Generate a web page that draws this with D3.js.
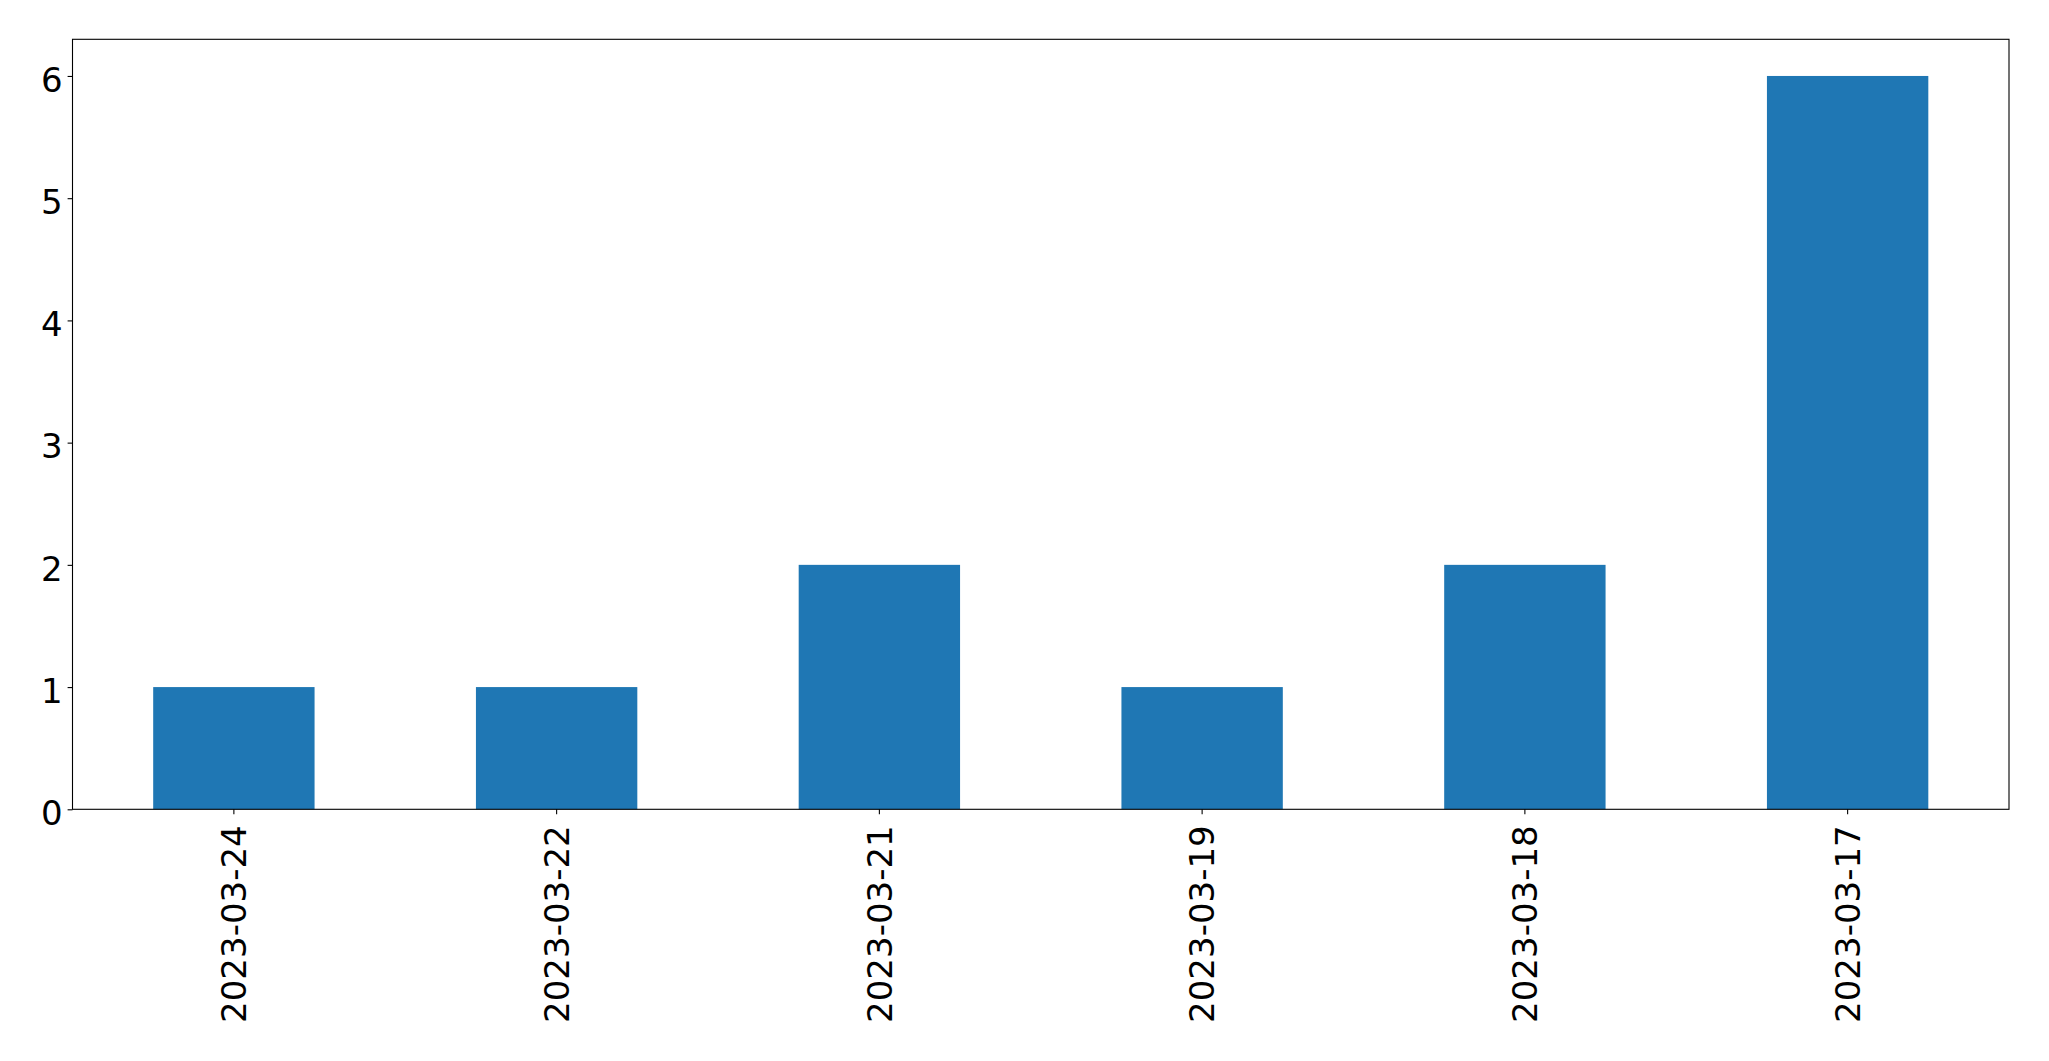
<!DOCTYPE html>
<html><head><meta charset="utf-8">
<script src="https://cdn.jsdelivr.net/npm/d3@7"></script>
<style>body{margin:0;background:#fff}svg{display:block}</style>
</head><body>
<script>
const categories = ["2023-03-24","2023-03-22","2023-03-21","2023-03-19","2023-03-18","2023-03-17"];
const values = [1,1,2,1,2,6];
const yTicks = [0,1,2,3,4,5,6];

const W = 2049, H = 1061;
const m = {left: 72.5, right: 2049-2009, top: 39.3, bottom: 1061-809.3};
const svg = d3.select("body").append("svg").attr("width", W).attr("height", H);
const x = d3.scaleBand().domain(categories).range([m.left, W - m.right]).paddingInner(0.5).paddingOuter(0.25);
const y = d3.scaleLinear().domain([0, 6.3]).range([H - m.bottom, m.top]);
const font = "DejaVu Sans, sans-serif";
const fs = 34;

svg.append("g").selectAll("rect").data(values).join("rect")
  .attr("x", (d, i) => x(categories[i]))
  .attr("width", x.bandwidth())
  .attr("y", d => y(d))
  .attr("height", d => y(0) - y(d))
  .attr("fill", "#1f77b4");

const ya = svg.append("g").attr("transform", `translate(${m.left},0)`)
  .call(d3.axisLeft(y).tickValues(yTicks).tickSize(4.9).tickPadding(4.9).tickSizeOuter(0).tickFormat(d3.format("d")));
ya.select(".domain").remove();
ya.selectAll("text").attr("font-size", fs).attr("font-family", font).attr("fill", "#000").attr("dy", "0.45em");
ya.selectAll("line").attr("stroke", "#000").attr("stroke-width", 1.1);

const xa = svg.append("g").attr("transform", `translate(0,${H - m.bottom})`)
  .call(d3.axisBottom(x).tickSize(4.9).tickPadding(4.9).tickSizeOuter(0));
xa.select(".domain").remove();
xa.selectAll("line").attr("stroke", "#000").attr("stroke-width", 1.1);
xa.selectAll("text").attr("font-size", fs).attr("font-family", font).attr("fill", "#000")
  .attr("text-anchor", "end").attr("y", 0).attr("dy", "0.36em")
  .attr("transform", "translate(0,16) rotate(-90)");

svg.append("rect").attr("x", m.left).attr("y", m.top)
  .attr("width", W - m.right - m.left).attr("height", H - m.bottom - m.top)
  .attr("fill", "none").attr("stroke", "#000").attr("stroke-width", 1.1);
</script>
</body></html>
